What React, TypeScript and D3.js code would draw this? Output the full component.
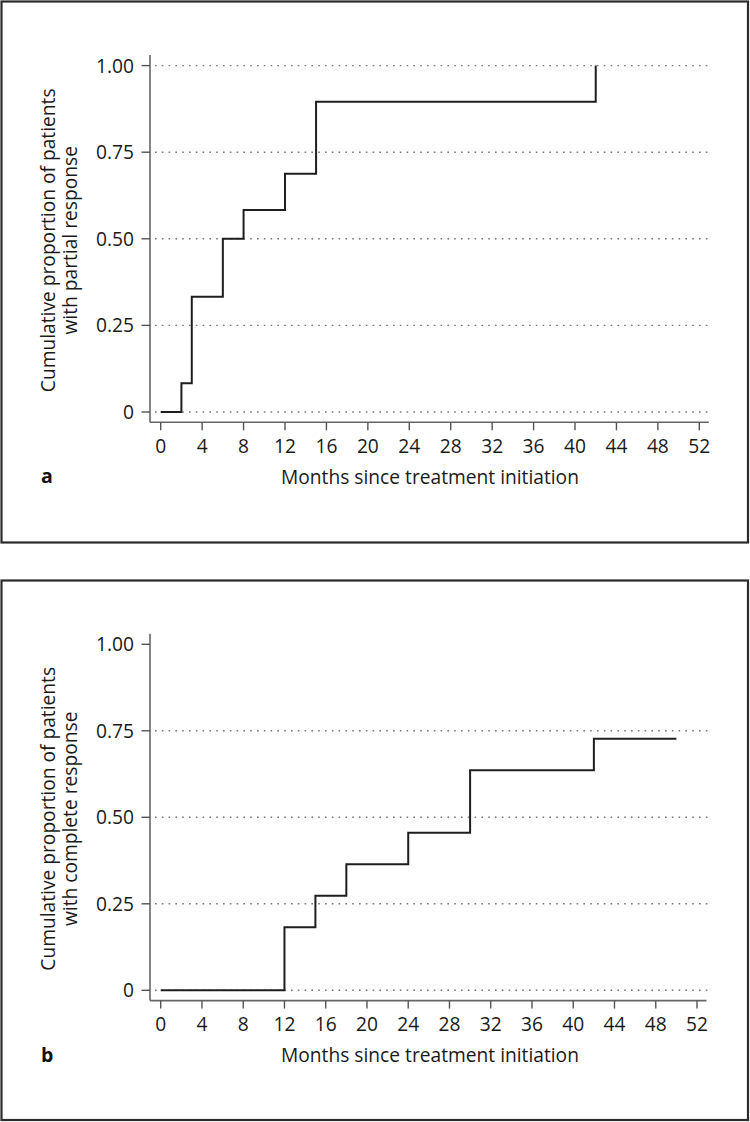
import React from 'react';
import * as d3 from 'd3';

// months since treatment initiation, cumulative proportion
const partialMonths = [0, 2, 3, 6, 8, 12, 15, 42];
const partialValues = [0, 0.083, 0.333, 0.5, 0.583, 0.688, 0.896, 1.0];

const completeMonths = [0, 12, 15, 18, 24, 30, 42, 50];
const completeValues = [0, 0.182, 0.273, 0.364, 0.455, 0.636, 0.727, 0.727];

const xTicks = [0, 4, 8, 12, 16, 20, 24, 28, 32, 36, 40, 44, 48, 52];
const yTicks = [0, 0.25, 0.5, 0.75, 1.0];
const yTickLabels = ['0', '0.25', '0.50', '0.75', '1.00'];

const FONT = '"Open Sans", sans-serif';
const FS = 19.2;

const Panel = ({ top, bottom, xRight, months, values, label, titleLine2, grid, boxY, boxH }) => {
  const axisX = 150;
  const axisY = bottom + 10.3;
  const x = d3.scaleLinear().domain([0, 52]).range([160.7, xRight]);
  const y = d3.scaleLinear().domain([0, 1]).range([bottom, top]);
  const pts = months.map((m, i) => [m, values[i]]);
  const line = d3.line().x(d => x(d[0])).y(d => y(d[1])).curve(d3.curveStepAfter);
  const midY = (top + bottom) / 2 + 1.5;

  return (
    <g>
      <rect x={1.5} y={boxY} width={746.5} height={boxH} fill="none" stroke="#2b2b2b" strokeWidth={2.2} />

      {/* dotted gridlines */}
      {grid.map(v => (
        <line key={v} x1={axisX + 5} x2={708} y1={y(v)} y2={y(v)}
          stroke="#777" strokeWidth={1.4} strokeDasharray="1.6 5.2" />
      ))}

      {/* axes */}
      <line x1={axisX} x2={axisX} y1={top - 10.5} y2={axisY} stroke="#666" strokeWidth={1.6} />
      <line x1={axisX} x2={xRight + 9.5} y1={axisY} y2={axisY} stroke="#666" strokeWidth={1.6} />

      {yTicks.map((v, i) => (
        <g key={v}>
          <line x1={axisX - 8.5} x2={axisX} y1={y(v)} y2={y(v)} stroke="#555" strokeWidth={1.4} />
          <text x={134} y={y(v)} dy="0.36em" textAnchor="end" fontFamily={FONT} fontSize={FS} fill="#1a1a1a">
            {yTickLabels[i]}
          </text>
        </g>
      ))}

      {xTicks.map(t => (
        <g key={t}>
          <line x1={x(t)} x2={x(t)} y1={axisY} y2={axisY + 8} stroke="#555" strokeWidth={1.4} />
          <text x={x(t)} y={axisY + 30.8} textAnchor="middle" fontFamily={FONT} fontSize={FS} fill="#1a1a1a">
            {t}
          </text>
        </g>
      ))}

      <text x={430} y={axisY + 61.7} textAnchor="middle" fontFamily={FONT} fontSize={FS} fill="#1a1a1a">
        Months since treatment initiation
      </text>

      <text transform={`translate(55,${midY}) rotate(-90)`} textAnchor="middle" fontFamily={FONT} fontSize={FS} fill="#1a1a1a">
        Cumulative proportion of patients
      </text>
      <text transform={`translate(77,${midY}) rotate(-90)`} textAnchor="middle" fontFamily={FONT} fontSize={FS} fill="#1a1a1a">
        {titleLine2}
      </text>

      <text x={41} y={axisY + 61} fontFamily={FONT} fontSize={19.5} fontWeight="bold" fill="#111">
        {label}
      </text>

      <path d={line(pts)} fill="none" stroke="#1e1e1e" strokeWidth={2} />
    </g>
  );
};

export default function App() {
  return (
    <svg width={750} height={1122} style={{ position: 'absolute', left: 0, top: 0, background: '#fff' }}>
      <rect width={750} height={1122} fill="#fff" />
      <Panel top={65.6} bottom={412} xRight={699.3}
        months={partialMonths} values={partialValues}
        label="a" titleLine2="with partial response"
        grid={[0, 0.25, 0.5, 0.75, 1.0]} boxY={1.5} boxH={541} />
      <Panel top={644.3} bottom={990.3} xRight={697}
        months={completeMonths} values={completeValues}
        label="b" titleLine2="with complete response"
        grid={[0, 0.25, 0.5, 0.75]} boxY={580.5} boxH={539.5} />
    </svg>
  );
}
